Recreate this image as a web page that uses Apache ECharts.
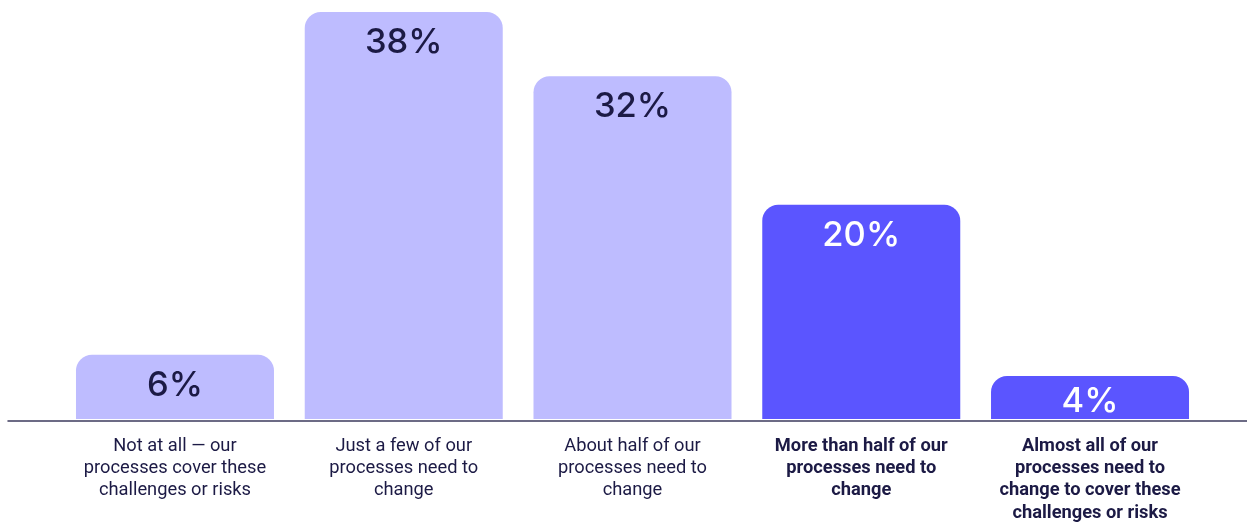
<!DOCTYPE html>
<html>
<head>
<meta charset="utf-8">
<script src="https://cdn.jsdelivr.net/npm/echarts@6/dist/echarts.min.js"></script>
<style>
  html, body { margin: 0; padding: 0; background: #ffffff; }
  #chart { width: 1247px; height: 522px; }
</style>
</head>
<body>
<div id="chart"></div>
<script>
// Survey answers (categories), share of respondents and which answers are highlighted
const categories = [
  'Not at all \u2014 our\nprocesses cover these\nchallenges or risks',
  'Just a few of our\nprocesses need to\nchange',
  'About half of our\nprocesses need to\nchange',
  'More than half of our\nprocesses need to\nchange',
  'Almost all of our\nprocesses need to\nchange to cover these\nchallenges or risks'
];
const values = [6, 38, 32, 20, 4];
const highlighted = [false, false, false, true, true];

const LIGHT = '#bebcff';
const DARK = '#5b55ff';
const INK = '#1c1a45';

const chart = echarts.init(document.getElementById('chart'), null, { renderer: 'canvas' });

chart.setOption({
  animation: false,
  grid: [
    { left: 60.6, right: 42.6, top: 12, bottom: 101, containLabel: false },
    { left: 8, right: 0, top: 12, bottom: 101, containLabel: false }
  ],
  xAxis: [
    {
      type: 'category',
      gridIndex: 0,
      data: categories,
      axisLine: { show: false },
      axisTick: { show: false },
      axisLabel: {
        interval: 0,
        margin: 16,
        formatter: function (value, idx) {
          const style = highlighted[idx] ? 'b' : 'n';
          return value.split('\n').map(l => '{' + style + '|' + l + '}').join('\n');
        },
        rich: {
          n: { fontFamily: 'Roboto', fontSize: 18.3, lineHeight: 22.3, color: INK, fontWeight: 400 },
          b: { fontFamily: 'Roboto', fontSize: 18.3, lineHeight: 22.3, color: INK, fontWeight: 700 }
        }
      }
    },
    {
      // full-width baseline
      type: 'value',
      gridIndex: 1,
      min: 0,
      max: 1,
      axisLine: { show: true, lineStyle: { color: '#3d3b5e', width: 1.5 } },
      axisTick: { show: false },
      axisLabel: { show: false },
      splitLine: { show: false }
    }
  ],
  yAxis: [
    { type: 'value', gridIndex: 0, min: 0, max: 38, show: false, splitLine: { show: false } },
    { type: 'value', gridIndex: 1, min: 0, max: 1, show: false, splitLine: { show: false } }
  ],
  series: [
    {
      type: 'bar',
      xAxisIndex: 0,
      yAxisIndex: 0,
      barWidth: 198,
      data: values.map((v, i) => ({
        value: v,
        itemStyle: { color: highlighted[i] ? DARK : LIGHT, borderRadius: [16, 16, 0, 0] },
        // the shortest bar keeps its label a little higher so it stays clear of the baseline
        label: { color: highlighted[i] ? '#ffffff' : INK, distance: v < 5 ? 8 : 13 }
      })),
      label: {
        show: true,
        position: 'insideTop',
        distance: 13,
        formatter: '{c}%',
        fontFamily: 'Inter',
        fontSize: 34.5,
        fontWeight: 500
      }
    }
  ]
});
</script>
</body>
</html>
